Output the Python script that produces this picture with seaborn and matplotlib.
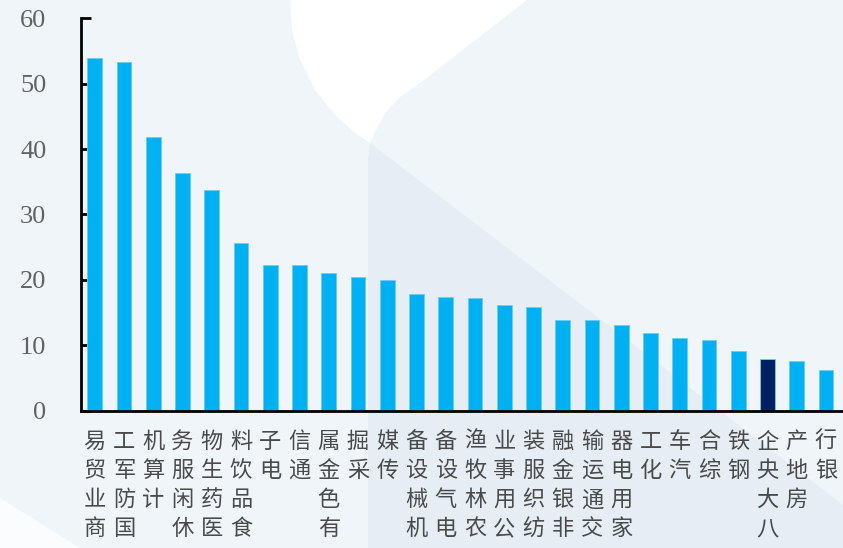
import matplotlib
matplotlib.use("Agg")
import matplotlib.pyplot as plt
import seaborn as sns
from matplotlib.patches import Polygon

categories = ["商业贸易", "国防军工", "计算机", "休闲服务", "医药生物", "食品饮料",
              "电子", "通信", "有色金属", "采掘", "传媒", "机械设备", "电气设备",
              "农林牧渔", "公用事业", "纺织服装", "非银金融", "交通运输", "家用电器",
              "化工", "汽车", "综合", "钢铁", "八大央企", "房地产", "银行"]
values = [53.9, 53.4, 41.9, 36.3, 33.8, 25.7, 22.3, 22.3, 21.1, 20.4, 19.9, 17.9,
          17.4, 17.2, 16.2, 15.9, 13.8, 13.8, 13.05, 11.8, 11.06, 10.85, 9.1, 7.9,
          7.6, 6.15]
highlight = "八大央企"
yticks = [0, 10, 20, 30, 40, 50, 60]

W, H = 843, 548
sns.set_theme(style="white")
plt.rcParams['font.family'] = ['Noto Sans CJK SC', 'DejaVu Sans']

fig = plt.figure(figsize=(W / 100, H / 100), dpi=100)
fig.patch.set_facecolor("#F0F5FA")


def px(points):
    return [(x / W, 1 - y / H) for x, y in points]


# decorative background shapes
white_shape = [(290, 0), (292, 30), (300, 60), (315, 90), (335, 115), (355, 133),
               (370, 143), (376, 130), (386, 112), (400, 97), (420, 83), (527, 0)]
dark_shape = [(370, 143), (843, 505), (843, 548), (368, 548), (368, 160)]
corner_shape = [(0, 498), (80, 548), (0, 548)]
for pts, col in [(white_shape, "#FFFFFF"), (dark_shape, "#E6EDF5"), (corner_shape, "#FAFCFE")]:
    fig.add_artist(Polygon(px(pts), closed=True, transform=fig.transFigure,
                           facecolor=col, edgecolor="none", zorder=-10))

ax = fig.add_axes([81 / W, 1 - 410.5 / H, (843 - 81) / W, (410.5 - 18.4) / H])
ax.set_facecolor("none")

palette = {c: ("#002060" if c == highlight else "#00B0F0") for c in categories}
sns.barplot(x=categories, y=values, hue=categories, palette=palette, legend=False,
            width=0.5, ax=ax, edgecolor="#6CCDF5", linewidth=0.6, saturation=1)

ax.set_xlim(-0.47, 25.58)
ax.set_ylim(0, 60)
ax.set_yticks(yticks)
ax.set_yticklabels([str(t) for t in yticks], family="Liberation Serif",
                   fontsize=19, color="#626262")
ax.tick_params(axis="y", direction="in", length=7, width=2, color="black", pad=25, left=True)
ax.set_xticks(range(len(categories)))
ax.set_xticklabels(["\n".join(reversed(c)) for c in categories], fontsize=16,
                   color="#4A4A4A", va="top", ha="center", linespacing=1.34)
ax.tick_params(axis="x", length=0, pad=14)

for side in ["top", "right"]:
    ax.spines[side].set_visible(False)
for side in ["left", "bottom"]:
    ax.spines[side].set_visible(True)
    ax.spines[side].set_color("black")
    ax.spines[side].set_linewidth(2)

ax.set_xlabel("")
ax.set_ylabel("")
fig.savefig("out.png", dpi=100, facecolor=fig.get_facecolor())
